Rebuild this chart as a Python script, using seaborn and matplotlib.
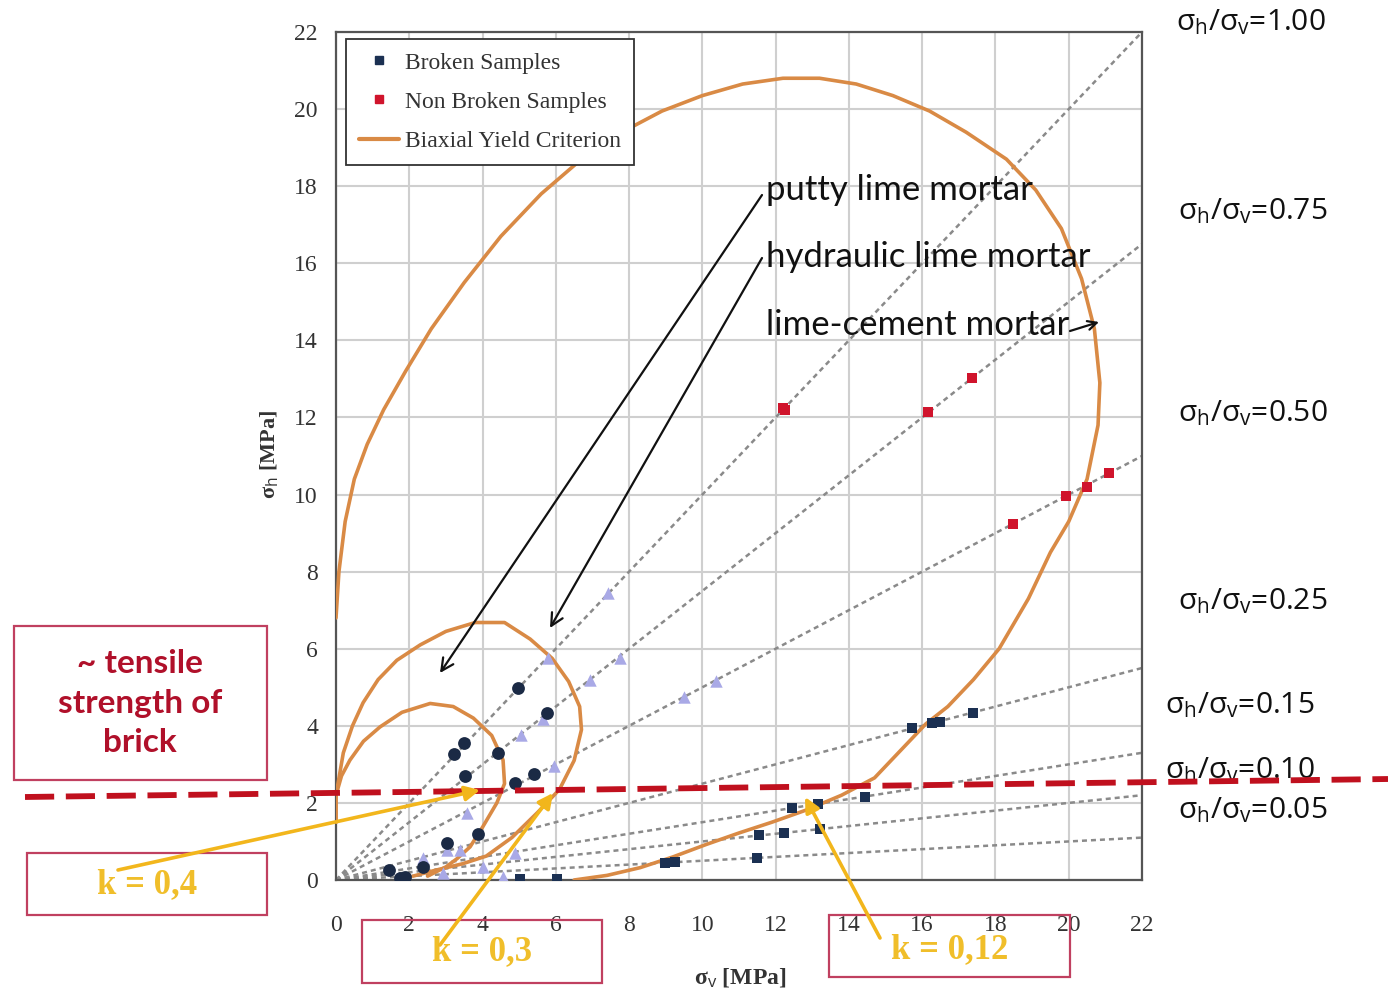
import matplotlib
matplotlib.use("Agg")
import matplotlib.pyplot as plt
import seaborn as sns
import pandas as pd
from matplotlib.patches import Rectangle, FancyArrowPatch
from matplotlib.lines import Line2D

# ---------------- data ----------------
ratios = [1.00, 0.75, 0.50, 0.25, 0.15, 0.10, 0.05]
ratio_labels = ["1.00", "0.75", "0.50", "0.25", "0.15", "0.10", "0.05"]

broken_x = [17.39, 16.48, 16.27, 15.72, 14.44, 13.16, 12.44, 13.21, 12.23, 11.55, 11.49, 9.25, 8.98, 5.02, 6.03]
broken_y = [4.33, 4.10, 4.07, 3.94, 2.15, 1.97, 1.87, 1.32, 1.22, 1.17, 0.57, 0.47, 0.44, 0.03, 0.03]

nonbroken_x = [12.20, 12.25, 17.36, 16.16, 21.10, 20.50, 19.92, 18.48]
nonbroken_y = [12.24, 12.19, 13.02, 12.14, 10.56, 10.20, 9.96, 9.23]

circ_x = [4.97, 5.76, 3.49, 3.22, 4.42, 3.52, 5.40, 4.89, 3.88, 3.03, 2.37, 1.45, 1.88, 1.75]
circ_y = [4.98, 4.33, 3.55, 3.27, 3.30, 2.70, 2.75, 2.52, 1.19, 0.96, 0.34, 0.26, 0.08, 0.05]

tri_x = [5.79, 7.42, 7.75, 6.93, 5.65, 5.05, 9.50, 10.37, 5.95, 3.58, 2.37, 3.03, 3.38, 4.00, 4.56, 2.92, 4.89]
tri_y = [5.76, 7.44, 5.76, 5.19, 4.18, 3.76, 4.75, 5.16, 2.96, 1.74, 0.57, 0.78, 0.78, 0.34, 0.08, 0.18, 0.70]

cement_x = [0.00, 0.08, 0.25, 0.50, 0.85, 1.30, 1.90, 2.60, 3.50, 4.50, 5.60, 6.70, 7.80, 8.90, 10.0, 11.1,
            12.2, 13.2, 14.2, 15.2, 16.2, 17.2, 18.3, 19.1, 19.8, 20.35, 20.7, 20.85, 20.8, 20.5,
            20.0, 19.5, 18.9, 18.1, 17.4, 16.7, 16.1, 15.4, 14.7, 13.8, 12.85, 11.9, 11.0, 10.1,
            9.2, 8.3, 7.4, 6.5]
cement_y = [6.80, 8.00, 9.30, 10.4, 11.3, 12.2, 13.2, 14.3, 15.5, 16.7, 17.8, 18.7, 19.4, 19.95, 20.35, 20.65,
            20.8, 20.8, 20.65, 20.35, 19.95, 19.4, 18.7, 17.9, 16.9, 15.6, 14.3, 12.9, 11.8, 10.4,
            9.3, 8.5, 7.3, 6.0, 5.2, 4.5, 4.05, 3.35, 2.65, 2.2, 1.82, 1.5, 1.22, 0.92,
            0.60, 0.32, 0.12, 0.0]

hydraulic_x = [0.0, 0.0, 0.2, 0.45, 0.74, 1.15, 1.66, 2.3, 3.0, 3.8, 4.6, 5.3, 5.9, 6.35, 6.65, 6.7,
               6.5, 6.1, 5.5, 4.8, 4.1, 3.45, 2.7, 2.1]
hydraulic_y = [1.5, 2.2, 3.3, 4.0, 4.6, 5.2, 5.7, 6.1, 6.45, 6.68, 6.68, 6.25, 5.75, 5.15, 4.5, 3.9,
               3.1, 2.35, 1.75, 1.1, 0.62, 0.42, 0.25, 0.10]

putty_x = [0.0, 0.0, 0.15, 0.38, 0.75, 1.2, 1.8, 2.57, 3.2, 3.75, 4.25, 4.56, 4.6, 4.39, 4.0, 3.66,
           3.3, 3.0, 2.5]
putty_y = [1.5, 2.2, 2.7, 3.11, 3.6, 3.97, 4.35, 4.58, 4.5, 4.2, 3.75, 3.11, 2.5, 2.0, 1.37, 0.86,
           0.55, 0.34, 0.10]

# ---------------- style ----------------
sns.set_theme(style="whitegrid")
plt.rcParams["font.family"] = ["Liberation Serif", "DejaVu Serif"]
plt.rcParams["mathtext.fontset"] = "custom"
plt.rcParams["mathtext.rm"] = "Open Sans"
plt.rcParams["mathtext.it"] = "Open Sans:italic"
plt.rcParams["mathtext.bf"] = "Open Sans:bold"

W, H = 1388, 994
fig = plt.figure(figsize=(W / 100, H / 100), dpi=100)
fig.patch.set_facecolor("white")
ax = fig.add_axes([336 / W, 1 - 880 / H, (1142 - 336) / W, (880 - 32) / H])
ax.set_facecolor("white")

def P(px, py):
    return (px / W, 1 - py / H)

ORANGE = "#D98A45"
GRAY = "#8a8a8a"

# ratio lines
for r in ratios:
    xe = min(22.0, 22.0 / r)
    sns.lineplot(x=[0.0, xe], y=[0.0, r * xe], ax=ax, color=GRAY, lw=1.8,
                 linestyle=(0, (2.0, 1.6)), zorder=2, estimator=None, sort=False)

# yield curves
for cx, cy in [(cement_x, cement_y), (hydraulic_x, hydraulic_y), (putty_x, putty_y)]:
    sns.lineplot(x=cx, y=cy, ax=ax, color=ORANGE, lw=2.6, sort=False, estimator=None, zorder=3)

# samples
sns.scatterplot(x=tri_x, y=tri_y, ax=ax, marker="^", color="#A9A9E6", s=80, linewidth=0, zorder=4)
sns.scatterplot(x=circ_x, y=circ_y, ax=ax, marker="o", color="#1B2A45", s=85, linewidth=0, zorder=5)
sns.scatterplot(x=broken_x, y=broken_y, ax=ax, marker="s", color="#1B3052", s=60, linewidth=0, zorder=5)
sns.scatterplot(x=nonbroken_x, y=nonbroken_y, ax=ax, marker="s", color="#D0142C", s=60, linewidth=0, zorder=5)

ax.set_xlim(0, 22)
ax.set_ylim(0, 22)
ax.set_xticks(range(0, 23, 2))
ax.set_yticks(range(0, 23, 2))
ax.set_xticks([i * 0.5 for i in range(45)], minor=True)
ax.set_yticks([i * 0.5 for i in range(45)], minor=True)
ax.grid(True, which="major", color="#cfcfcf", lw=1.5)
ax.grid(False, which="minor")
for s in ax.spines.values():
    s.set_visible(True)
    s.set_color("#555555")
    s.set_linewidth(1.6)
ax.tick_params(which="major", direction="inout", length=10, width=1.2, color="#444444",
               labelsize=17, labelcolor="#333333")
ax.tick_params(which="minor", direction="inout", length=6, width=1.0, color="#444444")
ax.tick_params(axis="x", which="major", pad=20)
ax.tick_params(axis="y", which="major", pad=8)
ax.set_xlabel("")
ax.set_ylabel("")

fig.text(*P(740, 978), r"σ$_{\rm v}$ [MPa]", ha="center", va="center", fontsize=17,
         fontweight="bold", color="#333333")
fig.text(*P(270, 455), r"σ$_{\rm h}$ [MPa]", ha="center", va="center", fontsize=16,
         fontweight="bold", color="#333333", rotation=90)

# legend
handles = [
    Line2D([], [], marker="s", ls="", color="#1B3052", markersize=6),
    Line2D([], [], marker="s", ls="", color="#D0142C", markersize=6),
    Line2D([], [], color=ORANGE, lw=3),
]
leg = ax.legend(handles, ["Broken Samples", "Non Broken Samples", "Biaxial Yield Criterion"],
                loc="upper left", bbox_to_anchor=P(346, 39), bbox_transform=fig.transFigure,
                fontsize=17, frameon=True, fancybox=False, edgecolor="#333333",
                framealpha=1, handlelength=1.7, handletextpad=0.25, labelspacing=0.75,
                borderpad=0.55, borderaxespad=0)
leg.get_frame().set_linewidth(1.3)
for t in leg.get_texts():
    t.set_color("#333333")

# ratio labels
ratio_pos = [(1176, 22), (1178, 211), (1178, 413), (1178, 601), (1165, 705), (1165, 770), (1178, 810)]
for lab, (px, py) in zip(ratio_labels, ratio_pos):
    fig.text(*P(px, py), r"σ$_{\rm h}$/σ$_{\rm v}$=" + lab, ha="left", va="center",
             fontsize=21.5, family="Open Sans", color="#111111")

# mortar labels
for txt, py in [("putty lime mortar", 190), ("hydraulic lime mortar", 257), ("lime-cement mortar", 325)]:
    fig.text(*P(766, py), txt, ha="left", va="center", fontsize=25, family="Lato", color="#111111")

def farrow(p0, p1, color, lw, style, ms, z=10):
    a = FancyArrowPatch(P(*p0), P(*p1), transform=fig.transFigure, arrowstyle=style,
                        mutation_scale=ms, color=color, lw=lw, zorder=z, shrinkA=0, shrinkB=0)
    fig.add_artist(a)

farrow((762, 195), (440, 673), "#111111", 1.6, "->", 22)
farrow((762, 258), (550, 628), "#111111", 1.6, "->", 22)
farrow((1070, 331), (1099, 322), "#111111", 1.6, "->", 16)

# red tensile strength line
fig.add_artist(Line2D([25 / W, 1.0], [1 - 797 / H, 1 - 779 / H], transform=fig.transFigure,
                      color="#C0101E", lw=4.2, linestyle=(0, (5, 2)), zorder=8))

# boxes
BOX = "#C04060"
for (x0, y0, x1, y1) in [(14, 626, 267, 780), (27, 853, 267, 915), (362, 920, 602, 983), (829, 915, 1070, 977)]:
    fig.add_artist(Rectangle(P(x0, y1), (x1 - x0) / W, (y1 - y0) / H, transform=fig.transFigure,
                             facecolor="none", edgecolor=BOX, lw=1.6, zorder=6))

fig.text(*P(140, 703), "~ tensile\nstrength of\nbrick", ha="center", va="center", fontsize=24,
         fontweight="bold", family="Lato", color="#B0102A", linespacing=1.42, zorder=7)
GOLD = "#F0BE2A"
for txt, (px, py) in [("k = 0,4", (147, 885)), ("k = 0,3", (482, 952)), ("k = 0,12", (950, 950))]:
    fig.text(*P(px, py), txt, ha="center", va="center", fontsize=25, fontweight="bold",
             color=GOLD, zorder=7)

farrow((118, 870), (480, 790), "#F2B61C", 2.6, "-|>", 22, z=11)
farrow((440, 945), (553, 793), "#F2B61C", 2.6, "-|>", 22, z=11)
farrow((880, 938), (805, 797), "#F2B61C", 2.6, "-|>", 22, z=11)

fig.savefig("out.png", dpi=100, facecolor="white")
